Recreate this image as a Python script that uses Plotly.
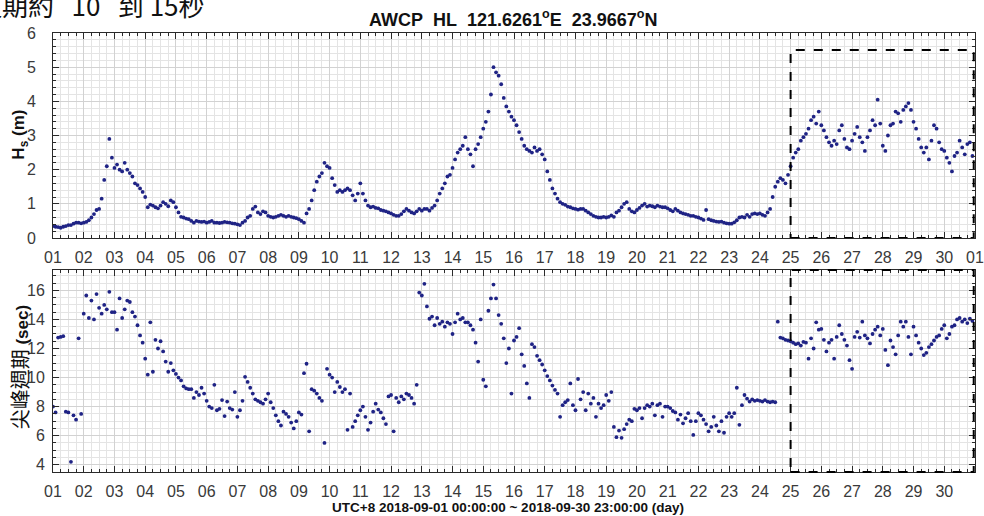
import pandas as pd
import plotly.graph_objects as go

# %%
# 2-hourly samples, 2018-09-01 00:00 ... 2018-09-30 22:00 (UTC+8)
times = pd.date_range("2018-09-01 00:00", periods=360, freq="2h")

# significant wave height Hs (m), one row = one day
hs = [
    0.35, 0.33, 0.32, 0.30, 0.33, 0.35, 0.38, 0.38, 0.42, 0.45, 0.45, 0.43,  # 01
    0.45, 0.47, 0.52, 0.60, 0.70, 0.82, 0.85, 1.15, 1.70, 2.10, 2.90, 2.35,  # 02
    2.05, 2.15, 2.00, 1.95, 2.20, 2.00, 1.90, 1.80, 1.60, 1.55, 1.45, 1.35,  # 03
    1.20, 0.90, 0.98, 0.95, 0.90, 0.87, 0.95, 1.05, 1.00, 0.93, 1.10, 1.05,  # 04
    0.90, 0.75, 0.62, 0.60, 0.57, 0.55, 0.50, 0.45, 0.50, 0.48, 0.47, 0.48,  # 05
    0.45, 0.47, 0.50, 0.45, 0.45, 0.44, 0.45, 0.47, 0.46, 0.45, 0.43, 0.42,  # 06
    0.40, 0.38, 0.45, 0.50, 0.60, 0.65, 0.85, 0.92, 0.75, 0.70, 0.78, 0.75,  # 07
    0.65, 0.62, 0.60, 0.62, 0.65, 0.68, 0.65, 0.62, 0.65, 0.62, 0.60, 0.58,  # 08
    0.55, 0.50, 0.45, 0.72, 0.85, 1.10, 1.40, 1.65, 1.80, 1.90, 2.20, 2.10,  # 09
    2.05, 1.75, 1.55, 1.35, 1.40, 1.35, 1.40, 1.45, 1.40, 1.25, 1.10, 1.30,  # 10
    1.60, 1.30, 1.10, 0.95, 0.90, 0.92, 0.88, 0.87, 0.82, 0.80, 0.78, 0.75,  # 11
    0.72, 0.68, 0.65, 0.65, 0.70, 0.78, 0.85, 0.80, 0.75, 0.72, 0.78, 0.85,  # 12
    0.80, 0.85, 0.85, 0.80, 0.88, 0.95, 1.10, 1.30, 1.45, 1.60, 1.80, 1.85,  # 13
    2.05, 2.30, 2.50, 2.60, 2.70, 2.95, 2.60, 2.45, 2.10, 2.60, 2.75, 2.95,  # 14
    3.20, 3.40, 3.70, 4.20, 5.00, 4.85, 4.75, 4.50, 4.10, 3.85, 3.70, 3.55,  # 15
    3.45, 3.30, 3.10, 2.90, 2.70, 2.60, 2.55, 2.50, 2.65, 2.55, 2.60, 2.45,  # 16
    2.30, 1.95, 1.70, 1.45, 1.30, 1.15, 1.05, 1.00, 0.97, 0.92, 0.90, 0.87,  # 17
    0.85, 0.83, 0.85, 0.85, 0.80, 0.75, 0.70, 0.65, 0.62, 0.60, 0.60, 0.62,  # 18
    0.60, 0.62, 0.66, 0.62, 0.75, 0.80, 0.90, 1.00, 1.05, 0.85, 0.78, 0.75,  # 19
    0.82, 0.88, 0.95, 1.00, 0.92, 0.95, 0.93, 0.90, 0.95, 0.92, 0.90, 0.90,  # 20
    0.87, 0.82, 0.78, 0.85, 0.80, 0.75, 0.72, 0.70, 0.68, 0.65, 0.65, 0.62,  # 21
    0.60, 0.57, 0.53, 0.82, 0.55, 0.52, 0.50, 0.48, 0.47, 0.48, 0.45, 0.43,  # 22
    0.42, 0.42, 0.46, 0.52, 0.60, 0.62, 0.60, 0.68, 0.62, 0.70, 0.72, 0.70,  # 23
    0.72, 0.68, 0.65, 0.75, 0.85, 1.20, 1.50, 1.65, 1.75, 1.70, 1.60, 1.85,  # 24
    2.10, 2.35, 2.50, 2.60, 2.85, 2.95, 3.05, 3.20, 3.45, 3.55, 3.35, 3.70,  # 25
    3.30, 3.15, 2.95, 2.80, 2.70, 2.85, 2.75, 3.15, 3.30, 2.90, 2.65, 2.60,  # 26
    2.85, 3.05, 3.25, 2.95, 2.80, 2.55, 2.95, 3.15, 3.45, 3.30, 4.05, 3.35,  # 27
    2.70, 2.55, 3.00, 3.30, 3.35, 3.70, 3.65, 3.40, 3.75, 3.85, 3.95, 3.75,  # 28
    3.40, 3.20, 2.90, 2.65, 2.50, 2.65, 2.30, 2.85, 3.30, 3.20, 2.80, 2.60,  # 29
    2.55, 2.35, 2.20, 1.95, 2.40, 2.50, 2.85, 2.65, 2.45, 2.75, 2.80, 2.40,  # 30
]

# peak period Tp (sec)
tp = [
    8.00, 7.60, 12.75, 12.80, 12.85, 7.65, 7.60, 4.20, 7.40, 7.10, 12.70, 7.50,  # 01
    14.40, 15.65, 14.10, 15.30, 14.00, 15.75, 14.80, 14.40, 15.00, 14.70, 15.90, 14.50,  # 02
    14.50, 13.30, 15.45, 14.10, 14.70, 15.30, 15.20, 14.50, 14.20, 13.60, 12.90, 12.40,  # 03
    11.30, 10.20, 13.80, 10.40, 12.60, 12.00, 12.50, 11.80, 11.10, 10.40, 11.00, 10.50,  # 04
    10.25, 10.00, 9.80, 9.40, 9.25, 9.20, 9.20, 8.60, 9.00, 8.80, 9.30, 8.90,  # 05
    8.40, 8.00, 7.90, 9.50, 7.75, 7.85, 8.45, 7.35, 8.35, 7.90, 7.80, 9.00,  # 06
    7.30, 7.75, 8.40, 10.05, 9.70, 9.30, 8.90, 8.50, 8.40, 8.30, 8.20, 8.50,  # 07
    8.90, 8.30, 7.90, 7.40, 7.00, 6.70, 7.65, 7.50, 7.30, 6.90, 6.50, 7.00,  # 08
    7.60, 7.45, 10.30, 10.95, 6.30, 9.20, 9.10, 8.90, 8.60, 8.40, 5.50, 10.60,  # 09
    10.20, 10.00, 9.00, 9.70, 9.35, 9.00, 9.20, 6.40, 8.90, 6.60, 7.00, 7.40,  # 10
    7.75, 8.00, 7.30, 6.40, 6.90, 7.65, 8.20, 7.80, 7.60, 7.20, 6.80, 8.70,  # 11
    8.80, 6.30, 8.60, 8.30, 8.70, 8.50, 8.90, 8.80, 8.60, 8.20, 9.50, 15.85,  # 12
    15.65, 16.45, 14.90, 14.05, 14.20, 13.60, 14.10, 13.70, 13.85, 13.50, 13.80, 13.70,  # 13
    13.00, 13.80, 14.40, 14.00, 14.10, 13.80, 13.80, 13.60, 13.30, 12.40, 11.10, 14.00,  # 14
    9.85, 9.40, 14.60, 15.45, 16.40, 15.45, 14.30, 13.70, 12.70, 11.00, 12.00, 8.90,  # 15
    12.55, 12.80, 13.40, 11.60, 10.80, 9.60, 8.60, 12.30, 12.10, 11.50, 11.20, 10.90,  # 16
    10.50, 10.10, 9.80, 9.45, 9.15, 8.90, 7.30, 8.10, 8.30, 8.45, 9.60, 8.10,  # 17
    7.75, 9.90, 8.50, 9.00, 7.75, 8.90, 8.20, 8.60, 7.30, 8.20, 7.90, 8.10,  # 18
    8.80, 8.40, 9.00, 6.60, 5.90, 6.35, 5.85, 6.45, 6.80, 7.10, 7.00, 7.85,  # 19
    7.75, 7.90, 7.20, 7.90, 8.10, 8.00, 8.20, 7.40, 8.10, 8.20, 7.30, 8.00,  # 20
    8.00, 7.90, 7.70, 7.60, 7.10, 7.45, 6.85, 7.20, 7.55, 7.00, 6.05, 7.00,  # 21
    7.55, 7.40, 7.10, 6.80, 6.30, 6.60, 7.30, 6.70, 6.30, 7.00, 6.20, 7.30,  # 22
    7.55, 7.30, 7.55, 9.30, 6.75, 8.10, 8.80, 8.55, 8.35, 8.50, 8.40, 8.45,  # 23
    8.40, 8.35, 8.45, 8.35, 8.30, 8.35, 8.30, 13.85, 12.75, 12.70, 12.60, 12.55,  # 24
    12.50, 12.40, 12.30, 12.35, 12.20, 12.45, 12.40, 11.30, 12.70, 12.00, 13.80, 13.30,  # 25
    13.35, 12.60, 11.80, 12.40, 12.60, 11.30, 12.80, 13.60, 13.00, 12.60, 12.20, 11.20,  # 26
    10.60, 12.80, 13.15, 12.75, 13.85, 12.90, 12.70, 12.35, 13.00, 13.30, 13.50, 12.90,  # 27
    13.35, 11.90, 10.85, 12.55, 12.10, 11.60, 12.90, 13.85, 13.50, 13.85, 12.80, 11.60,  # 28
    13.50, 12.90, 12.40, 12.00, 11.55, 11.70, 12.10, 12.30, 12.55, 12.80, 12.90, 13.35,  # 29
    13.60, 12.70, 13.00, 13.50, 13.60, 14.00, 14.10, 13.85, 14.00, 13.75, 14.05, 13.90,  # 30
]

day_ticks = pd.date_range("2018-09-01", "2018-10-01", freq="D")
top_tick_text = [d.strftime("%d") for d in day_ticks]          # 01 ... 30, 01
bottom_tick_text = top_tick_text[:-1]                          # 01 ... 30

title_text = "AWCP\u00a0\u00a0HL\u00a0\u00a0121.6261<sup>o</sup>E\u00a0\u00a023.9667<sup>o</sup>N"
xlabel_text = "UTC+8 2018-09-01 00:00:00 ~ 2018-09-30 23:00:00 (day)"
hs_label = "H<sub>s</sub> (m)"
tp_label = "<span style='font-family:Noto Sans CJK TC;font-weight:normal;font-size:20px'>尖峰週期</span> (sec)"
NB = "\u00a0"
caption_text = "週期約" + NB * 3 + "10" + NB * 3 + "到" + NB + "15秒"

# %%
DOT = "#1f2385"
GRID = "#e4e4e4"
GRID_MAJOR = "#d2d2d2"
AXLINE = "#2a2a2a"
TICKFONT = dict(family="Arial, Liberation Sans", size=16, color="#3a3a3a")

fig = go.Figure()
fig.add_trace(go.Scatter(x=times, y=hs, mode="markers", xaxis="x", yaxis="y",
                         marker=dict(size=3.8, color=DOT), showlegend=False))
fig.add_trace(go.Scatter(x=times, y=tp, mode="markers", xaxis="x2", yaxis="y2",
                         marker=dict(size=3.8, color=DOT), showlegend=False))

SIX_H = 6 * 3600 * 1000
xcommon = dict(type="date", range=["2018-09-01", "2018-10-01"], automargin=False,
               showline=True, mirror="allticks", linecolor=AXLINE, linewidth=1,
               ticks="inside", ticklen=6, tickcolor=AXLINE,
               showgrid=True, gridcolor=GRID_MAJOR, gridwidth=1,
               minor=dict(dtick=SIX_H, ticks="inside", ticklen=3, tickcolor=AXLINE,
                          showgrid=True, gridcolor=GRID),
               tickfont=TICKFONT, ticklabelstandoff=5, zeroline=False)
ycommon = dict(showline=True, mirror="allticks", linecolor=AXLINE, linewidth=1,
               automargin=False, ticks="inside", ticklen=6, tickcolor=AXLINE,
               showgrid=True, gridcolor=GRID_MAJOR, gridwidth=1,
               tickfont=TICKFONT, zeroline=False)

fig.update_layout(
    width=984, height=516,
    margin=dict(l=53, r=9, t=33, b=44),
    paper_bgcolor="white", plot_bgcolor="white",
    font=dict(family="Arial, Liberation Sans", color="#222"),
    xaxis=dict(**xcommon, domain=[0, 1], anchor="y",
               tickvals=day_ticks, ticktext=top_tick_text),
    yaxis=dict(**ycommon, domain=[0.533, 1], anchor="x", range=[0, 6], dtick=1,
               ticklabelstandoff=13,
               minor=dict(dtick=0.2, ticks="inside", ticklen=3, tickcolor=AXLINE,
                          showgrid=True, gridcolor=GRID)),
    xaxis2=dict(**xcommon, domain=[0, 1], anchor="y2",
                tickvals=day_ticks[:-1], ticktext=bottom_tick_text),
    yaxis2=dict(**ycommon, domain=[0, 0.46], anchor="x2", range=[3.5, 17.4],
                tickvals=[4, 6, 8, 10, 12, 14, 16], ticklabelstandoff=4,
                minor=dict(dtick=0.5, ticks="inside", ticklen=3, tickcolor=AXLINE,
                           showgrid=True, gridcolor=GRID)),
)

# dashed boxes marking 25th - end of month
fig.add_shape(type="rect", xref="x", yref="y", x0="2018-09-25", x1="2018-09-30 23:00",
              y0=0, y1=5.5, line=dict(color="black", width=2, dash="dash"))
fig.add_shape(type="rect", xref="x2", yref="y2 domain", x0="2018-09-25", x1="2018-09-30 23:00",
              y0=0, y1=1, line=dict(color="black", width=2, dash="dash"))

fig.add_annotation(text="<b>" + title_text + "</b>", xref="paper", yref="paper",
                   x=0.499, y=1.032, xanchor="center", yanchor="middle", showarrow=False,
                   font=dict(size=18, color="#111"))
fig.add_annotation(text="<b>" + hs_label + "</b>", xref="paper", yref="paper",
                   x=-0.036, y=0.768, xanchor="center", yanchor="middle", textangle=-90,
                   showarrow=False, font=dict(size=17, color="#111"))
fig.add_annotation(text="<b>" + tp_label + "</b>", xref="paper", yref="paper",
                   x=-0.036, y=0.238, xanchor="center", yanchor="middle", textangle=-90,
                   showarrow=False, font=dict(size=17, color="#111"))
fig.add_annotation(text="<b>" + xlabel_text + "</b>", xref="paper", yref="paper",
                   x=0.4935, y=-0.08, xanchor="center", yanchor="middle", showarrow=False,
                   font=dict(size=13.5, color="#111"))
# cropped caption line from the page above the figure
fig.add_annotation(text=caption_text, xref="paper", yref="paper",
                   x=-0.0857, y=1.066, xanchor="left", yanchor="middle", showarrow=False,
                   font=dict(family="Noto Sans CJK TC", size=26, color="#111"))

# the page body has a default 8px margin; remove it so the figure sits at (0, 0)
fig.write_html("out.html", config={"displayModeBar": False},
               post_script="document.body.style.margin='0';")
